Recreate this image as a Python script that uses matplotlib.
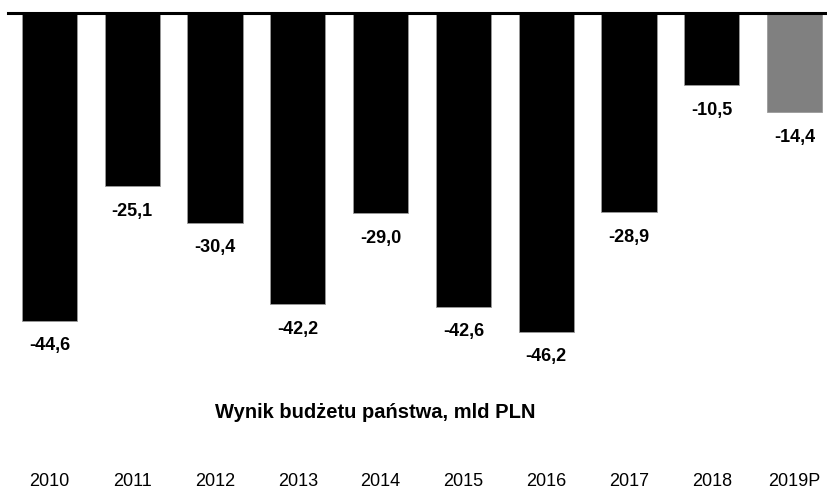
import matplotlib
matplotlib.use('Agg')
from matplotlib import pyplot as plt
from matplotlib.transforms import blended_transform_factory
from matplotlib import font_manager

years = ['2010', '2011', '2012', '2013', '2014', '2015', '2016', '2017', '2018', '2019P']
balance = [-44.6, -25.1, -30.4, -42.2, -29.0, -42.6, -46.2, -28.9, -10.5, -14.4]
bar_colors = ['black'] * 9 + ['#808080']
title = 'Wynik budżetu państwa, mld PLN'

names = {f.name for f in font_manager.fontManager.ttflist}
family = ['Liberation Sans Narrow', 'Liberation Sans', 'DejaVu Sans']
family = [f for f in family if f in names] or ['DejaVu Sans']
plt.rcParams['font.family'] = family

W, H = 828, 492
fig = plt.figure(figsize=(W / 100, H / 100), dpi=100)
# axes: left edge at 8px, zero line at 13px from top
top, bottom = 13, 360
ax = fig.add_axes([8 / W, 1 - bottom / H, 828 / W, (bottom - top) / H])
ax.set_xlim(-0.5, len(years) - 0.5)
ax.set_ylim(-(bottom - top) / 6.9, 0)

x = list(range(len(years)))
ax.bar(x, balance, width=0.665, color=bar_colors, edgecolor='#9a9a9a', linewidth=0.6, zorder=2)

for s in ['left', 'right', 'bottom']:
    ax.spines[s].set_visible(False)
ax.spines['top'].set_linewidth(2.2)
ax.spines['top'].set_zorder(3)
ax.set_xticks([])
ax.set_yticks([])

for xi, v in zip(x, balance):
    ax.annotate(f'{v:.1f}'.replace('.', ','), (xi, v), xytext=(0, -18), textcoords='offset points',
                ha='center', va='center', fontsize=13, fontweight='bold')

trans = blended_transform_factory(ax.transData, fig.transFigure)
for xi, y in zip(x, years):
    ax.text(xi, 1 - 482 / H, y, transform=trans, ha='center', va='center', fontsize=13, clip_on=False)

fig.text(375 / W, 1 - 413 / H, title, ha='center', va='center', fontsize=14.5, fontweight='bold')

fig.savefig('out.png', dpi=100)
